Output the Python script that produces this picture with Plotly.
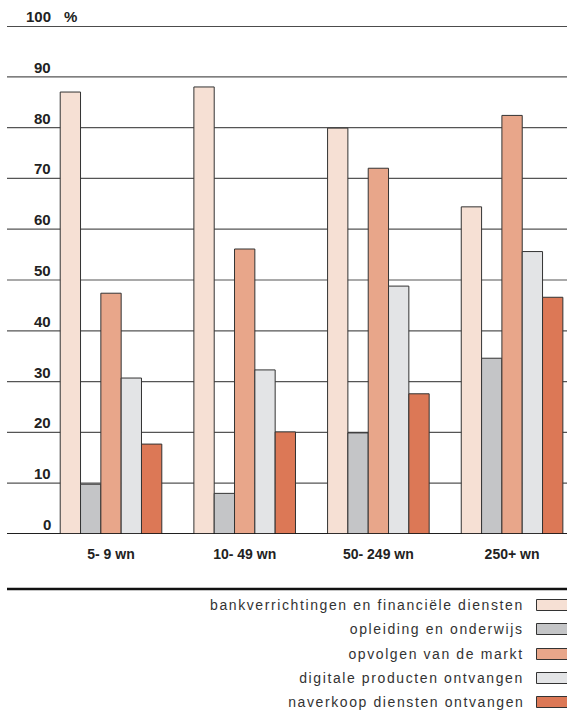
import plotly.graph_objects as go

categories = ["5- 9 wn", "10- 49 wn", "50- 249 wn", "250+ wn"]
series_names = [
    "bankverrichtingen en financiële diensten",
    "opleiding en onderwijs",
    "opvolgen van de markt",
    "digitale producten ontvangen",
    "naverkoop diensten ontvangen",
]
bank = [87.0, 88.0, 79.9, 64.4]
opleiding = [9.8, 8.0, 19.9, 34.6]
opvolgen = [47.4, 56.1, 72.0, 82.4]
digitale = [30.7, 32.3, 48.8, 55.6]
naverkoop = [17.7, 20.1, 27.6, 46.6]
series_values = [bank, opleiding, opvolgen, digitale, naverkoop]
colors = ["#f6e0d4", "#c4c5c7", "#e8a68a", "#e3e4e6", "#dc7856"]
y_ticks = [0, 10, 20, 30, 40, 50, 60, 70, 80, 90, 100]

W, H = 567, 712
L, R, T, B = 7, 0, 26, 178
PW = W - L - R
PH = H - T - B


def px_x(px):
    return (px - L) / PW


def px_y(py):
    return (H - B - py) / PH


fig = go.Figure()
for name, vals, col in zip(series_names, series_values, colors):
    fig.add_trace(go.Bar(
        x=categories, y=vals, name=name,
        marker=dict(color=col, line=dict(color="#333333", width=1)),
        showlegend=False,
    ))

tick_font = dict(family="Liberation Sans, Arial", size=15, color="#222222", weight="bold")
annotations = []
shapes = []
for t in y_ticks:
    lw = 1.6 if t in (0, 100) else 1.2
    lc = "#111111" if t in (0, 100) else "#555555"
    shapes.append(dict(type="line", xref="paper", yref="y", x0=0, x1=1, y0=t, y1=t,
                       line=dict(color=lc, width=lw), layer="below"))
    annotations.append(dict(xref="paper", yref="y", x=px_x(53), y=t, text=str(t),
                            showarrow=False, xanchor="right", yanchor="bottom", yshift=-1,
                            font=tick_font))
annotations.append(dict(xref="paper", yref="y", x=px_x(62), y=100, text="%",
                        showarrow=False, xanchor="left", yanchor="bottom", yshift=-1,
                        font=tick_font))
shapes.append(dict(type="line", xref="paper", yref="y", x0=0, x1=1, y0=0, y1=0,
                   line=dict(color="#111111", width=1.6), layer="above"))

shapes.append(dict(type="line", xref="paper", yref="paper", x0=0, x1=1,
                   y0=px_y(589), y1=px_y(589), line=dict(color="#111111", width=2.5)))
row_y = [605, 629, 654, 678, 702]
for name, col, ry in zip(series_names, colors, row_y):
    annotations.append(dict(xref="paper", yref="paper", x=px_x(526), y=px_y(ry), text=name,
                            showarrow=False, xanchor="right", yanchor="middle", align="right",
                            font=dict(family="Liberation Sans, Arial", size=14, color="#333333")))
    shapes.append(dict(type="rect", xref="paper", yref="paper",
                       x0=px_x(536.5), x1=px_x(572), y0=px_y(ry + 5.5), y1=px_y(ry - 5.5),
                       fillcolor=col, line=dict(color="#333333", width=1)))

fig.update_layout(
    width=W, height=H,
    margin=dict(l=L, r=R, t=T, b=B),
    paper_bgcolor="white", plot_bgcolor="white",
    barmode="group", bargap=0.24, bargroupgap=0,
    xaxis=dict(range=[-0.778, 3.411], showgrid=False, showline=False, zeroline=False,
               ticks="", ticklabelstandoff=10,
               tickfont=dict(family="Liberation Sans, Arial", size=14, color="#222222", weight="bold")),
    yaxis=dict(range=[0, 100], showgrid=False, showline=False, zeroline=False,
               showticklabels=False),
    shapes=shapes, annotations=annotations,
)

post = """
document.body.style.margin = '0';
document.body.style.overflow = 'hidden';
function fixSpacing() {
  var gd = document.getElementById('{plot_id}');
  var texts = gd.querySelectorAll('.annotation-text');
  texts.forEach(function (t) {
    if (t.textContent.length > 12) {
      t.style.letterSpacing = '1.6px';
      t.setAttribute('text-anchor', 'end');
    }
  });
}
fixSpacing();
setTimeout(fixSpacing, 0);
document.getElementById('{plot_id}').on('plotly_afterplot', fixSpacing);
"""

fig.write_html("out.html", post_script=post, config={"displayModeBar": False})
